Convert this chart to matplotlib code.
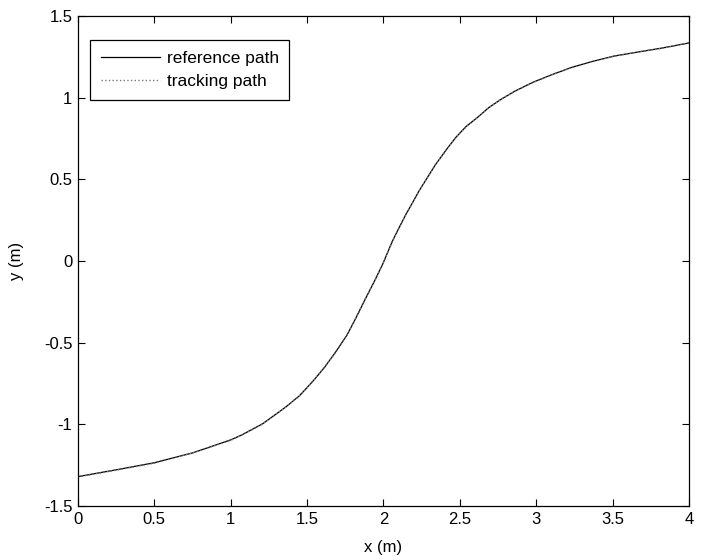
import matplotlib.pyplot as plt

plt.rcParams['font.family'] = ['Liberation Sans', 'DejaVu Sans']

# path points
x_ref = [0.0, 0.27, 0.5, 0.75, 1.0, 1.07, 1.21, 1.36, 1.45, 1.536, 1.615, 1.689, 1.76,
         1.819, 1.884, 1.94, 1.993, 2.058, 2.10, 2.146, 2.19, 2.232, 2.29, 2.341, 2.41,
         2.472, 2.54, 2.613, 2.69, 2.77, 2.86, 2.98, 3.10, 3.23, 3.36, 3.51, 3.67,
         3.83, 4.0]
y_ref = [-1.32, -1.275, -1.235, -1.175, -1.095, -1.066, -0.996, -0.894, -0.825, -0.738,
         -0.65, -0.554, -0.455, -0.35, -0.227, -0.125, -0.023, 0.121, 0.20, 0.284,
         0.357, 0.428, 0.515, 0.591, 0.68, 0.755, 0.823, 0.877, 0.94, 0.99, 1.04,
         1.095, 1.14, 1.185, 1.22, 1.255, 1.28, 1.305, 1.335]

x_trk = [0.0, 0.26, 0.5, 0.76, 1.0, 1.08, 1.2, 1.35, 1.46, 1.54, 1.62, 1.69, 1.765,
         1.82, 1.886, 1.945, 1.995, 2.06, 2.10, 2.148, 2.19, 2.234, 2.29, 2.343, 2.41,
         2.474, 2.54, 2.615, 2.69, 2.77, 2.87, 2.98, 3.11, 3.23, 3.37, 3.51, 3.68,
         3.83, 4.0]
y_trk = [-1.322, -1.279, -1.238, -1.172, -1.098, -1.062, -1.003, -0.902, -0.818, -0.733,
         -0.642, -0.557, -0.447, -0.346, -0.222, -0.117, -0.02, 0.125, 0.197, 0.287,
         0.354, 0.432, 0.512, 0.594, 0.677, 0.758, 0.82, 0.88, 0.938, 0.992, 1.044,
         1.093, 1.143, 1.183, 1.223, 1.253, 1.283, 1.303, 1.337]

fig = plt.figure(figsize=(7.05, 5.6), dpi=100)
ax = fig.add_axes([0.1106, 0.0964, 0.8667, 0.875])

ax.plot(x_ref, y_ref, color='black', linewidth=0.9, label='reference path')
ax.plot(x_trk, y_trk, color='#777777', linestyle=':', linewidth=1.0, label='tracking path')

ax.set_xlim(0, 4)
ax.set_ylim(-1.5, 1.5)
ax.set_xticks([0, 0.5, 1, 1.5, 2, 2.5, 3, 3.5, 4])
ax.set_xticklabels(['0', '0.5', '1', '1.5', '2', '2.5', '3', '3.5', '4'])
ax.set_yticks([-1.5, -1, -0.5, 0, 0.5, 1, 1.5])
ax.set_yticklabels(['-1.5', '-1', '-0.5', '0', '0.5', '1', '1.5'])
ax.tick_params(direction='in', top=True, right=True, length=5, width=0.8,
               labelsize=12, pad=4)
for s in ax.spines.values():
    s.set_linewidth(0.9)

ax.set_xlabel('x (m)', fontsize=12, labelpad=10)
ax.set_ylabel('y (m)', fontsize=12, labelpad=14)

leg = ax.legend(loc='upper left', bbox_to_anchor=(0.02, 0.951), borderaxespad=0,
                fontsize=12.5, handlelength=3.4, fancybox=False, framealpha=1,
                edgecolor='black', borderpad=0.6, labelspacing=0.5, handletextpad=0.4)
leg.get_frame().set_linewidth(0.9)

fig.savefig('out.png', dpi=100)
